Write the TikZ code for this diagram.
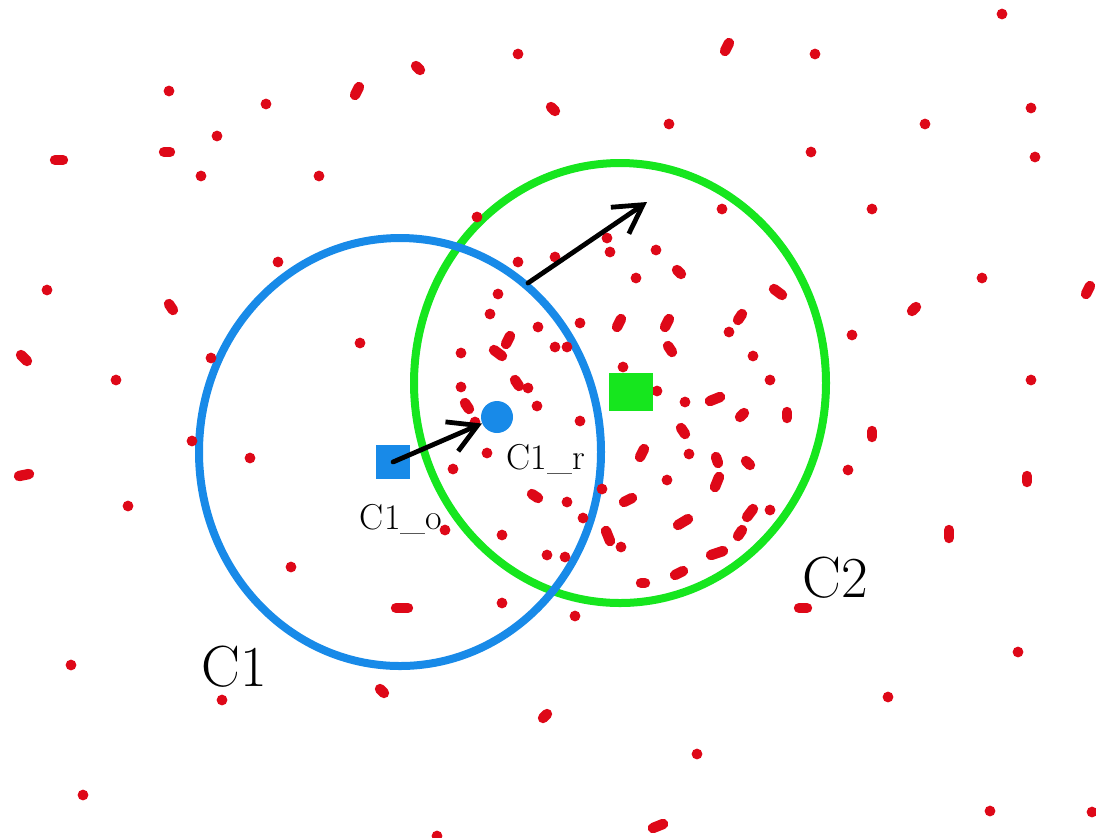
\documentclass[tikz,border=0pt]{standalone}
\usepackage{tikz}
\usetikzlibrary{arrows.meta}
\usetikzlibrary{positioning}
\definecolor{cblue}{RGB}{24,138,232}
\definecolor{cgreen}{RGB}{22,230,30}
\definecolor{cred}{RGB}{222,8,24}

\begin{document}
\begin{tikzpicture}[x=0.5pt,y=-0.5pt,
		dot/.style={fill=cred},
		smear/.style={draw=cred,line width=5.2pt,line cap=round},
		ring/.style={line width=4pt},
		mv/.style={draw=black,line width=2.4pt,line cap=round,line join=round,
			-{Straight Barb[length=14pt,width=16pt]}},
		big/.style={font=\fontsize{29}{30}\selectfont},
		small/.style={font=\fontsize{18}{19}\selectfont}]
		\useasboundingbox (0,0) rectangle (1096,837);
		
		% the two clusters
		\draw[ring,cgreen] (620,383) ellipse[x radius=103pt,y radius=110pt];
		\draw[ring,cblue] (400,452) ellipse[x radius=100.5pt,y radius=107pt];
		
		% data points
		\foreach \x/\y in {169/91,266/104,217/136,201/176,319/176,278/262,47/290,211/358,
			360/343,116/380,518/54,669/124,1002/14,815/54,1031/108,925/124,1035/157,811/152,
			872/209,722/209,982/278,852/335,1031/380,128/506,192/441,250/458,291/567,71/665,
			222/700,83/795,502/603,575/616,697/754,437/836,848/470,1018/652,888/697,990/811,
			1092/812,477/217,656/250,518/262,555/257,636/278,498/294,490/314,538/327,580/323,
			461/353,555/347,567/347,753/356,770/380,623/367,528/388,461/387,537/406,580/421,
			657/391,685/402,487/453,453/469,689/454,667/480,567/502,602/489,583/518,770/510,
			445/530,502/535,621/547,547/555,565/557,729/332,607/238,475/422,610/252}
		\fill[dot] (\x,\y) circle[radius=2.7pt];
		\foreach \x/\y/\dx/\dy in {357/91/2/-4,59/160/4/0,167/152/3/0,171/307/2/3,24/358/3/3,
			418/68/2/2,553/109/2/2,727/47/2/-4,679/272/2/2,1088/290/2/-4,914/309/2/-2,
			778/292/4/3,740/317/2/-3,24/475/5/-1,402/608/6/0,679/573/4/-2,643/583/2/0,
			382/691/2/2,545/716/2/-2,658/826/5/-2,872/434/0/3,1027/479/0/3,949/534/0/4,
			803/608/4/0,619/323/2/-4,667/323/2/-4,508/340/2/-4,498/353/4/3,670/349/2/3,
			517/383/2/3,467/406/2/3,715/399/5/-2,683/431/2/3,642/453/2/-4,717/482/2/-5,
			717/460/1/3,535/496/3/2,628/500/4/-2,683/522/5/-3,750/513/3/-4,740/533/2/-3,
			717/553/6/-2,748/463/2/2,608/536/2/5,742/415/2/-2,787/415/0/3}
		\draw[smear] ({\x-(\dx)},{\y-(\dy)}) -- ({\x+(\dx)},{\y+(\dy)});
		
		% centres
		\node[fill=cblue,minimum size=17pt,inner sep=0pt] (o) at (393,462) {};
		\node[circle,fill=cblue,minimum size=16pt,inner sep=0pt] (r) at (497,417) {};
		\node[fill=cgreen,minimum width=22pt,minimum height=19pt,inner sep=0pt] (g) at (631,392) {};
		
		% moves
		\draw[mv] (o.center) -- (r);
		\coordinate (s) at (528,283);
		\coordinate (t) at (647,202);
		\draw[mv] (s) -- (t);
		
		% labels
		\node[small] (lo) at (401,519) {C1\_o};
		\node[small] (lr) at (546,459) {C1\_r};
		\node[big] (l1) at (234,667) {C1};
		\node[big] (l2) at (835,578) {C2};
	\end{tikzpicture}
\end{document}
